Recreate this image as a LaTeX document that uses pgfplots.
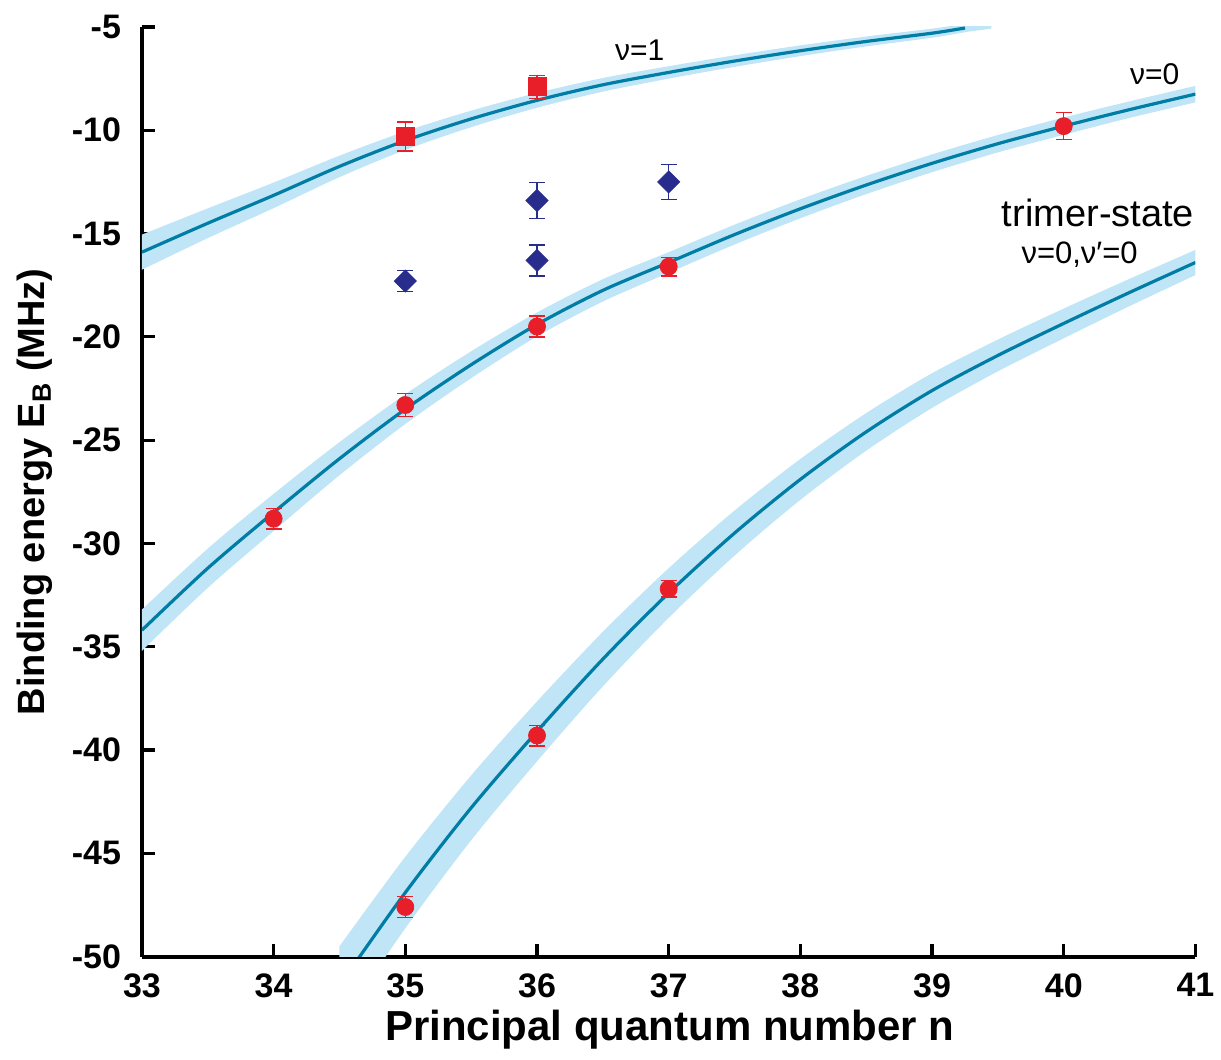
\documentclass[border=0pt]{standalone}
\usepackage{fontspec}
\setmainfont{Liberation Sans}
\usepackage{pgfplots}
\usepackage{pgfplotstable}
\pgfplotsset{compat=1.18}
\usepgfplotslibrary{fillbetween}

\definecolor{curve}{RGB}{0,125,165}
\definecolor{band}{RGB}{192,229,246}
\definecolor{ptred}{RGB}{232,30,40}
\definecolor{dia}{RGB}{40,44,140}

% theory curves: n, energy, half width of the band
\pgfplotstableread{
n e w
33 -15.9 0.85
33.5 -14.5 0.72
34 -13.15 0.62
34.5 -11.75 0.52
35 -10.5 0.45
35.5 -9.45 0.40
36 -8.55 0.36
36.5 -7.8 0.33
37 -7.2 0.30
37.5 -6.65 0.28
38 -6.15 0.26
38.5 -5.7 0.24
39 -5.3 0.22
39.25 -5.05 0.20
}\vone
\pgfplotstableread{
n e w
33 -4.85 0.20
39.25 -5.05 0.20
39.45 -4.9 0.18
}\vonetail
\pgfplotstableread{
n e w
33 -34.2 1.00
33.5 -31.2 0.95
34 -28.5 0.90
34.5 -25.9 0.80
35 -23.5 0.72
35.5 -21.35 0.65
36 -19.4 0.58
36.5 -17.75 0.54
37 -16.4 0.50
37.5 -15.05 0.48
38 -13.8 0.46
38.5 -12.65 0.44
39 -11.6 0.43
39.5 -10.65 0.42
40 -9.8 0.42
40.5 -9.0 0.40
41 -8.25 0.40
}\vzero
\pgfplotstableread{
n e w
34.5 -51.4 1.90
35 -46.9 1.73
35.5 -42.8 1.57
36 -39.1 1.45
36.5 -35.6 1.32
37 -32.4 1.20
37.5 -29.5 1.09
38 -26.9 0.99
38.5 -24.6 0.91
39 -22.6 0.84
39.5 -20.9 0.77
40 -19.35 0.72
40.5 -17.85 0.66
41 -16.4 0.61
}\trimer

\begin{document}
\begin{tikzpicture}
\begin{axis}[
    at={(0,0)}, anchor=south west,
    scale only axis,
    width=527bp, height=465bp,
    xmin=33, xmax=41, ymin=-50, ymax=-5,
    axis x line=bottom, axis y line=left,
    axis line style={-, line width=2bp},
    xtick={33,34,...,41}, ytick={-50,-45,...,-5},
    tick align=inside, major tick length=6.5bp,
    tick style={line width=1.6bp, black},
    tick label style={font=\fontsize{17bp}{20bp}\selectfont\bfseries},
    /pgf/number format/assume math mode=true,
    yticklabel style={xshift=-7bp},
    xticklabel style={yshift=-5bp},
    xlabel={Principal quantum number n},
    ylabel={Binding energy E\textsubscript{B} (MHz)},
    ylabel style={font=\fontsize{19bp}{23bp}\selectfont\bfseries,
        at={(axis description cs:-0.1015,0.5)}, anchor=center},
    xlabel style={font=\fontsize{21bp}{25bp}\selectfont\bfseries,
        at={(axis description cs:0.501,-0.0785)}, anchor=center},
    error bars/y dir=both, error bars/y explicit,
    error bars/error mark=-,
]
% bands
\addplot[name path=au, draw=none, forget plot, smooth] table[x=n, y expr=\thisrow{e}+\thisrow{w}] {\vone};
\addplot[name path=al, draw=none, forget plot, smooth] table[x=n, y expr=\thisrow{e}-\thisrow{w}] {\vone};
\addplot[band, draw=none, forget plot] fill between[of=au and al];
\addplot[name path=du, draw=none, forget plot] table[x=n, y expr=\thisrow{e}+\thisrow{w}] {\vonetail};
\addplot[name path=dl, draw=none, forget plot] table[x=n, y expr=\thisrow{e}-\thisrow{w}] {\vonetail};
\addplot[band, draw=none, forget plot] fill between[of=du and dl, soft clip={domain=39.2:39.5}];
\addplot[name path=bu, draw=none, forget plot, smooth] table[x=n, y expr=\thisrow{e}+\thisrow{w}] {\vzero};
\addplot[name path=bl, draw=none, forget plot, smooth] table[x=n, y expr=\thisrow{e}-\thisrow{w}] {\vzero};
\addplot[band, draw=none, forget plot] fill between[of=bu and bl];
\addplot[name path=cu, draw=none, forget plot, smooth] table[x=n, y expr=\thisrow{e}+\thisrow{w}] {\trimer};
\addplot[name path=cl, draw=none, forget plot, smooth] table[x=n, y expr=\thisrow{e}-\thisrow{w}] {\trimer};
\addplot[band, draw=none, forget plot] fill between[of=cu and cl];

% centre lines
\addplot[curve, line width=1.6bp, smooth] table[x=n, y=e] {\vone};
\addplot[curve, line width=1.6bp, smooth] table[x=n, y=e] {\vzero};
\addplot[curve, line width=1.6bp, smooth] table[x=n, y=e] {\trimer};

% measured points
\addplot[only marks, mark=*, mark size=4.25bp, color=ptred,
    error bars/error bar style={line width=0.7bp, ptred},
    error bars/error mark options={ptred, line width=0.7bp, mark size=4bp, rotate=90}]
    coordinates {
    (34,-28.8) +- (0,0.5)
    (35,-23.3) +- (0,0.55)
    (36,-19.5) +- (0,0.5)
    (37,-16.6) +- (0,0.45)
    (40,-9.8) +- (0,0.65)
    (35,-47.6) +- (0,0.5)
    (36,-39.3) +- (0,0.5)
    (37,-32.2) +- (0,0.4)
    };
\addplot[only marks, mark=square*, mark size=4.5bp, color=ptred,
    error bars/error bar style={line width=0.7bp, ptred},
    error bars/error mark options={ptred, line width=0.7bp, mark size=4bp, rotate=90}]
    coordinates {
    (35,-10.3) +- (0,0.7)
    (36,-7.9) +- (0,0.55)
    };
\addplot[only marks, mark=square*, mark size=3.9bp, mark options={rotate=45}, color=dia,
    error bars/error bar style={line width=0.7bp, dia},
    error bars/error mark options={dia, line width=0.7bp, mark size=4bp, rotate=90}]
    coordinates {
    (35,-17.3) +- (0,0.5)
    (36,-13.4) +- (0,0.86)
    (36,-16.3) +- (0,0.75)
    (37,-12.5) +- (0,0.85)
    };

\node[font=\fontsize{15bp}{18bp}\selectfont] at (axis cs:36.78,-6.1) {ν=1};
\node[font=\fontsize{15bp}{18bp}\selectfont] at (axis cs:40.69,-7.3) {ν=0};
\node[font=\fontsize{19bp}{23bp}\selectfont] at (axis cs:40.26,-14.0) {trimer-state};
\node[font=\fontsize{15.5bp}{18bp}\selectfont] at (axis cs:40.12,-16.0) {ν=0,ν′=0};
\end{axis}
\path (-71bp,-51.5bp) rectangle (539.5bp,478.5bp);
\end{tikzpicture}
\end{document}
